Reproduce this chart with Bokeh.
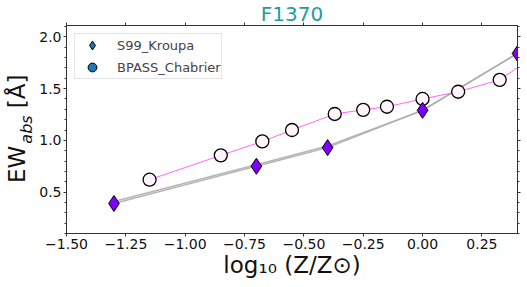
from math import pi
from bokeh.plotting import figure
from bokeh.models import Range1d, LinearAxis, FixedTicker, Legend, LegendItem, Title
from bokeh.embed import file_html
from bokeh.resources import INLINE

# ---------------- data ----------------
title_text = "F1370"
s99_x = [-1.3, -0.7, -0.4, 0.0, 0.4]
s99_y = [0.39, 0.75, 0.93, 1.29, 1.84]
s99_y_b = [0.41, 0.765, 0.945, 1.29, 1.84]
bpass_x = [-1.15, -0.85, -0.675, -0.55, -0.37, -0.25, -0.15, 0.0, 0.15, 0.325, 0.45]
bpass_y = [0.62, 0.855, 0.99, 1.10, 1.255, 1.295, 1.325, 1.40, 1.47, 1.585, 1.78]
xtick_vals = [-1.5, -1.25, -1.0, -0.75, -0.5, -0.25, 0.0, 0.25]
xtick_labels = ["\u22121.50", "\u22121.25", "\u22121.00", "\u22120.75", "\u22120.50", "\u22120.25", "0.00", "0.25"]
ytick_vals = [0.5, 1.0, 1.5, 2.0]
ytick_labels = ["0.5", "1.0", "1.5", "2.0"]
ytick_minor = [0.1, 0.2, 0.3, 0.4, 0.6, 0.7, 0.8, 0.9, 1.1, 1.2, 1.3, 1.4, 1.6, 1.7, 1.8, 1.9, 2.1]
legend_labels = ["S99_Kroupa", "BPASS_Chabrier"]
xlabel_text = "log\u2081\u2080 (Z/Z\u2299)"
ylabel_main = ["EW", "[\u00c5]"]
ylabel_sub = "abs"

FONT = "DejaVu Sans"
SPINE = "#333333"
NAN = float("nan")

p = figure(width=522, height=285, title=None,
           x_range=Range1d(-1.5, 0.4), y_range=Range1d(0.1, 2.11),
           output_backend="svg", toolbar_location=None,
           min_border_left=66, min_border_right=5, min_border_top=25, min_border_bottom=52)
p.xgrid.visible = False
p.ygrid.visible = False
p.outline_line_color = SPINE
p.background_fill_color = "white"
p.border_fill_color = "white"

# bottom axis
xa = p.xaxis[0]
xa.ticker = FixedTicker(ticks=xtick_vals, minor_ticks=[])
xa.major_label_overrides = {v: l for v, l in zip(xtick_vals, xtick_labels)}
xa.major_label_text_font = FONT
xa.major_label_text_font_size = "14px"
xa.major_label_text_color = "#111111"
xa.major_tick_out = 3
xa.major_tick_in = 0
xa.major_label_standoff = 2
xa.axis_line_color = SPINE
xa.major_tick_line_color = SPINE
xa.axis_label = xlabel_text
xa.axis_label_text_font = FONT
xa.axis_label_text_font_size = "23px"
xa.axis_label_text_font_style = "normal"
xa.axis_label_text_color = "#111111"
xa.axis_label_standoff = 0

# left axis (ticks, tick labels, subscript part of the label)
ya = p.yaxis[0]
ya.ticker = FixedTicker(ticks=ytick_vals, minor_ticks=ytick_minor)
ya.major_label_overrides = {v: l for v, l in zip(ytick_vals, ytick_labels)}
ya.major_label_text_font = FONT
ya.major_label_text_font_size = "14px"
ya.major_label_text_color = "#111111"
ya.major_tick_out = 3
ya.major_tick_in = 0
ya.minor_tick_out = 2
ya.minor_tick_in = 0
ya.major_label_standoff = 2
ya.axis_line_color = SPINE
ya.major_tick_line_color = SPINE
ya.minor_tick_line_color = SPINE
ya.axis_label = ylabel_sub
ya.axis_label_text_font = FONT
ya.axis_label_text_font_size = "16px"
ya.axis_label_text_font_style = "italic"
ya.axis_label_text_color = "#111111"
ya.axis_label_standoff = 0

# outer left "axis" carrying the main parts of the y label
ylabel_pos = [0.767, 1.473]
la = LinearAxis(ticker=FixedTicker(ticks=ylabel_pos, minor_ticks=[]))
la.major_label_overrides = {v: t for v, t in zip(ylabel_pos, ylabel_main)}
la.major_label_orientation = "parallel"
la.major_label_text_font = FONT
la.major_label_text_font_size = "23px"
la.major_label_text_color = "#111111"
la.major_label_standoff = -16
la.major_tick_out = 0
la.major_tick_in = 0
la.major_tick_line_color = None
la.minor_tick_line_color = None
la.axis_line_color = None
p.add_layout(la, "left")

# top axis (ticks only)
ta = LinearAxis(ticker=FixedTicker(ticks=xtick_vals, minor_ticks=[]))
ta.major_label_text_font_size = "0px"
ta.major_label_text_color = None
ta.major_label_standoff = 0
ta.major_tick_out = 3
ta.major_tick_in = 0
ta.axis_line_color = SPINE
ta.major_tick_line_color = SPINE
p.add_layout(ta, "above")

# right axis (ticks only)
ra = LinearAxis(ticker=FixedTicker(ticks=ytick_vals, minor_ticks=ytick_minor))
ra.major_label_text_font_size = "0px"
ra.major_label_text_color = None
ra.major_label_standoff = 0
ra.major_tick_out = 3
ra.major_tick_in = 0
ra.minor_tick_out = 2
ra.minor_tick_in = 0
ra.axis_line_color = SPINE
ra.major_tick_line_color = SPINE
ra.minor_tick_line_color = SPINE
p.add_layout(ra, "right")

# title (added after the top axis so it sits outside it)
p.add_layout(Title(text=title_text, align="center", text_font=FONT, text_font_size="20px",
                   text_font_style="normal", text_color="#1b9e9e", standoff=-7), "above")

# lines and markers
p.line(s99_x, s99_y, line_color="#a8a8a8", line_width=1.5, line_alpha=0.85)
p.line(s99_x, s99_y_b, line_color="#a8a8a8", line_width=1.5, line_alpha=0.85)
p.line(bpass_x, bpass_y, line_color="#ff66ff", line_width=1)
p.scatter(bpass_x, bpass_y, marker="circle", size=13, fill_color="#fff4f8",
          line_color="black", line_width=1.3)
p.scatter(s99_x, s99_y, marker="diamond", size=16, fill_color="#7f00ff",
          line_color="black", line_width=1)

# legend (proxy glyphs, not drawn in the plot area)
r_leg1 = p.scatter(x=[NAN], y=[NAN], marker="diamond", fill_color="#1f77b4", line_color="black", line_width=1)
r_leg2 = p.scatter(x=[NAN], y=[NAN], marker="circle", fill_color="#1f77b4", line_color="black", line_width=1)
legend = Legend(items=[LegendItem(label=legend_labels[0], renderers=[r_leg1]),
                       LegendItem(label=legend_labels[1], renderers=[r_leg2])],
                location="top_left")
legend.margin = 8
legend.padding = 0
legend.spacing = 0
legend.glyph_width = 34
legend.glyph_height = 22
legend.label_height = 18
legend.label_standoff = 8
legend.label_text_font = FONT
legend.label_text_font_size = "13px"
legend.border_line_color = "#cccccc"
legend.border_line_width = 1
legend.background_fill_alpha = 0.8
p.add_layout(legend)

open("out.html", "w").write(file_html(p, INLINE))
